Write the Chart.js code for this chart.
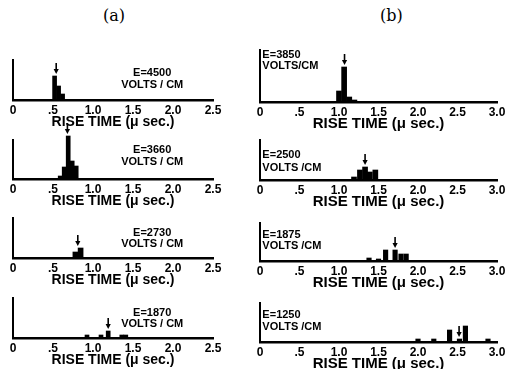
<!DOCTYPE html>
<html>
<head>
<meta charset="UTF-8">
<title>Rise time histograms</title>
<script src="https://cdn.jsdelivr.net/npm/chart.js"></script>
<style>
  body { margin: 0; background: #fff; width: 505px; height: 369px; position: relative; overflow: hidden; }
  canvas { position: absolute; }
  .hdr { position: absolute; top: 6px; font-family: "DejaVu Serif", "Liberation Serif", serif; font-size: 16px; color: #000; }
</style>
</head>
<body>
<div class="hdr" style="left:103px">(a)</div>
<div class="hdr" style="left:380px">(b)</div>
<script>
// tick labels
const ticksA = ['0', '.5', '1.0', '1.5', '2.0', '2.5'];
const ticksB = ['0', '.5', '1.0', '1.5', '2.0', '2.5', '3.0'];

// column (a): rise time bins (µsec) and relative counts
const a1Times = [0.52, 0.57, 0.62];
const a1Counts = [24, 14, 6];
const a1Mean = 0.54;
const a1Field = 'E=4500';

const a2Times = [0.59, 0.64, 0.69, 0.74, 0.79];
const a2Counts = [3, 12, 43, 18, 13];
const a2Mean = 0.68;
const a2Field = 'E=3660';

const a3Times = [0.78, 0.845];
const a3Counts = [6, 10];
const a3Mean = 0.81;
const a3Field = 'E=2730';

const a4Times = [0.925, 1.1, 1.19, 1.36, 1.41];
const a4Counts = [3, 3, 7, 3, 3];
const a4Mean = 1.19;
const a4Field = 'E=1870';

// column (b)
const b1Times = [1.0, 1.065, 1.13, 1.195];
const b1Counts = [11, 35, 5, 2];
const b1Mean = 1.07;
const b1Field = 'E=3850';

const b2Times = [1.19, 1.265, 1.33, 1.39, 1.46];
const b2Counts = [3, 10, 13, 8, 10];
const b2Mean = 1.33;
const b2Field = 'E=2500';

const b3Times = [1.38, 1.5, 1.59, 1.71, 1.785, 1.85];
const b3Counts = [3, 2, 11, 11, 7, 7];
const b3Mean = 1.71;
const b3Field = 'E=1875';

const b4Times = [2.0, 2.2, 2.4, 2.525, 2.6, 2.886];
const b4Counts = [3, 3, 12, 3, 16, 3];
const b4Mean = 2.52;
const b4Field = 'E=1250';

const FONT = '"Liberation Sans", Arial, sans-serif';
const PAD_TOP = 20;
const AXIS_H = 31;

// layout of each small plot (pixels)
const colA = { left: 0, width: 240, padLeft: 13, padRight: 27, xMax: 2.5, ticks: ticksA, titleSize: 14, textAlign: 'center', textX: 1.74, bar: 4 };
const colB = { left: 247, width: 264, padLeft: 13, padRight: 14, xMax: 3.0, ticks: ticksB, titleSize: 15, textAlign: 'left', textX: 0.03, bar: 4.5 };

const panels = [
  { col: colA, top: 60, base: 100, times: a1Times, counts: a1Counts, mean: a1Mean, field: a1Field, unit: 'VOLTS / CM', textY: [27, 15] },
  { col: colA, top: 140, base: 179, times: a2Times, counts: a2Counts, mean: a2Mean, field: a2Field, unit: 'VOLTS / CM', textY: [29, 17] },
  { col: colA, top: 218, base: 258, times: a3Times, counts: a3Counts, mean: a3Mean, field: a3Field, unit: 'VOLTS / CM', textY: [25, 14], bar: 5 },
  { col: colA, top: 298, base: 338, times: a4Times, counts: a4Counts, mean: a4Mean, field: a4Field, unit: 'VOLTS / CM', textY: [25, 14] },
  { col: colB, top: 50, base: 102, times: b1Times, counts: b1Counts, mean: b1Mean, field: b1Field, unit: 'VOLTS/CM', textY: [47, 36], bar: 5 },
  { col: colB, top: 140, base: 180, times: b2Times, counts: b2Counts, mean: b2Mean, field: b2Field, unit: 'VOLTS /CM', textY: [25, 12], bar: 5 },
  { col: colB, top: 223, base: 261, times: b3Times, counts: b3Counts, mean: b3Mean, field: b3Field, unit: 'VOLTS /CM', textY: [26, 15] },
  { col: colB, top: 303, base: 342, times: b4Times, counts: b4Counts, mean: b4Mean, field: b4Field, unit: 'VOLTS /CM', textY: [27, 15] }
];

// arrow at the mean rise time + field strength label
function marksPlugin(p) {
  return {
    id: 'marks',
    afterDatasetsDraw(chart) {
      const ctx = chart.ctx;
      const xs = chart.scales.x, ys = chart.scales.y;
      const ax = xs.getPixelForValue(p.mean);
      let h = 0;
      p.times.forEach((t, i) => { if (Math.abs(t - p.mean) < 0.08) h = Math.max(h, p.counts[i]); });
      const tip = ys.getPixelForValue(h) - 2;
      ctx.save();
      ctx.strokeStyle = '#000';
      ctx.fillStyle = '#000';
      ctx.lineWidth = 1.6;
      ctx.beginPath();
      ctx.moveTo(ax, tip - 11);
      ctx.lineTo(ax, tip - 4);
      ctx.stroke();
      ctx.beginPath();
      ctx.moveTo(ax - 2.6, tip - 5);
      ctx.lineTo(ax + 2.6, tip - 5);
      ctx.lineTo(ax, tip);
      ctx.closePath();
      ctx.fill();

      ctx.font = 'bold 11px ' + FONT;
      ctx.textAlign = p.col.textAlign;
      ctx.textBaseline = 'middle';
      const tx = xs.getPixelForValue(p.col.textX);
      ctx.fillText(p.field, tx, ys.getPixelForValue(p.textY[0]));
      ctx.fillText(p.unit, tx, ys.getPixelForValue(p.textY[1]));
      ctx.restore();
    }
  };
}

panels.forEach(p => {
  const c = p.col;
  const plotH = p.base - p.top;
  const canvas = document.createElement('canvas');
  const h = PAD_TOP + plotH + AXIS_H;
  canvas.width = c.width;
  canvas.height = h;
  canvas.style.left = c.left + 'px';
  canvas.style.top = (p.top - PAD_TOP) + 'px';
  canvas.style.width = c.width + 'px';
  canvas.style.height = h + 'px';
  document.body.appendChild(canvas);

  new Chart(canvas, {
    type: 'bar',
    data: {
      datasets: [{
        data: p.times.map((t, i) => ({ x: t, y: p.counts[i] })),
        backgroundColor: '#000',
        borderWidth: 0,
        barThickness: p.bar || c.bar,
        clip: false
      }]
    },
    options: {
      responsive: false,
      animation: false,
      events: [],
      layout: { padding: { left: c.padLeft, right: c.padRight, top: PAD_TOP, bottom: 0 } },
      plugins: { legend: { display: false }, tooltip: { enabled: false } },
      scales: {
        x: {
          type: 'linear',
          min: 0,
          max: c.xMax,
          offset: false,
          grid: { display: false, drawTicks: false },
          border: { display: true, color: '#000', width: 2.5 },
          ticks: {
            stepSize: 0.5,
            padding: 3,
            autoSkip: false,
            maxRotation: 0,
            color: '#000',
            font: { family: FONT, size: 12, weight: 'bold' },
            callback: (v, i) => c.ticks[i]
          },
          title: {
            display: true,
            text: 'RISE TIME (\u03bc sec.)',
            color: '#000',
            padding: 0,
            font: { family: FONT, size: c.titleSize, weight: 'bold' }
          },
          afterFit: s => { s.height = AXIS_H; }
        },
        y: {
          min: 0,
          max: plotH,
          grid: { display: false, drawTicks: false },
          border: { display: true, color: '#000', width: 2 },
          ticks: { display: false },
          afterFit: s => { s.width = 0; }
        }
      }
    },
    plugins: [marksPlugin(p)]
  });
});
</script>
</body>
</html>
